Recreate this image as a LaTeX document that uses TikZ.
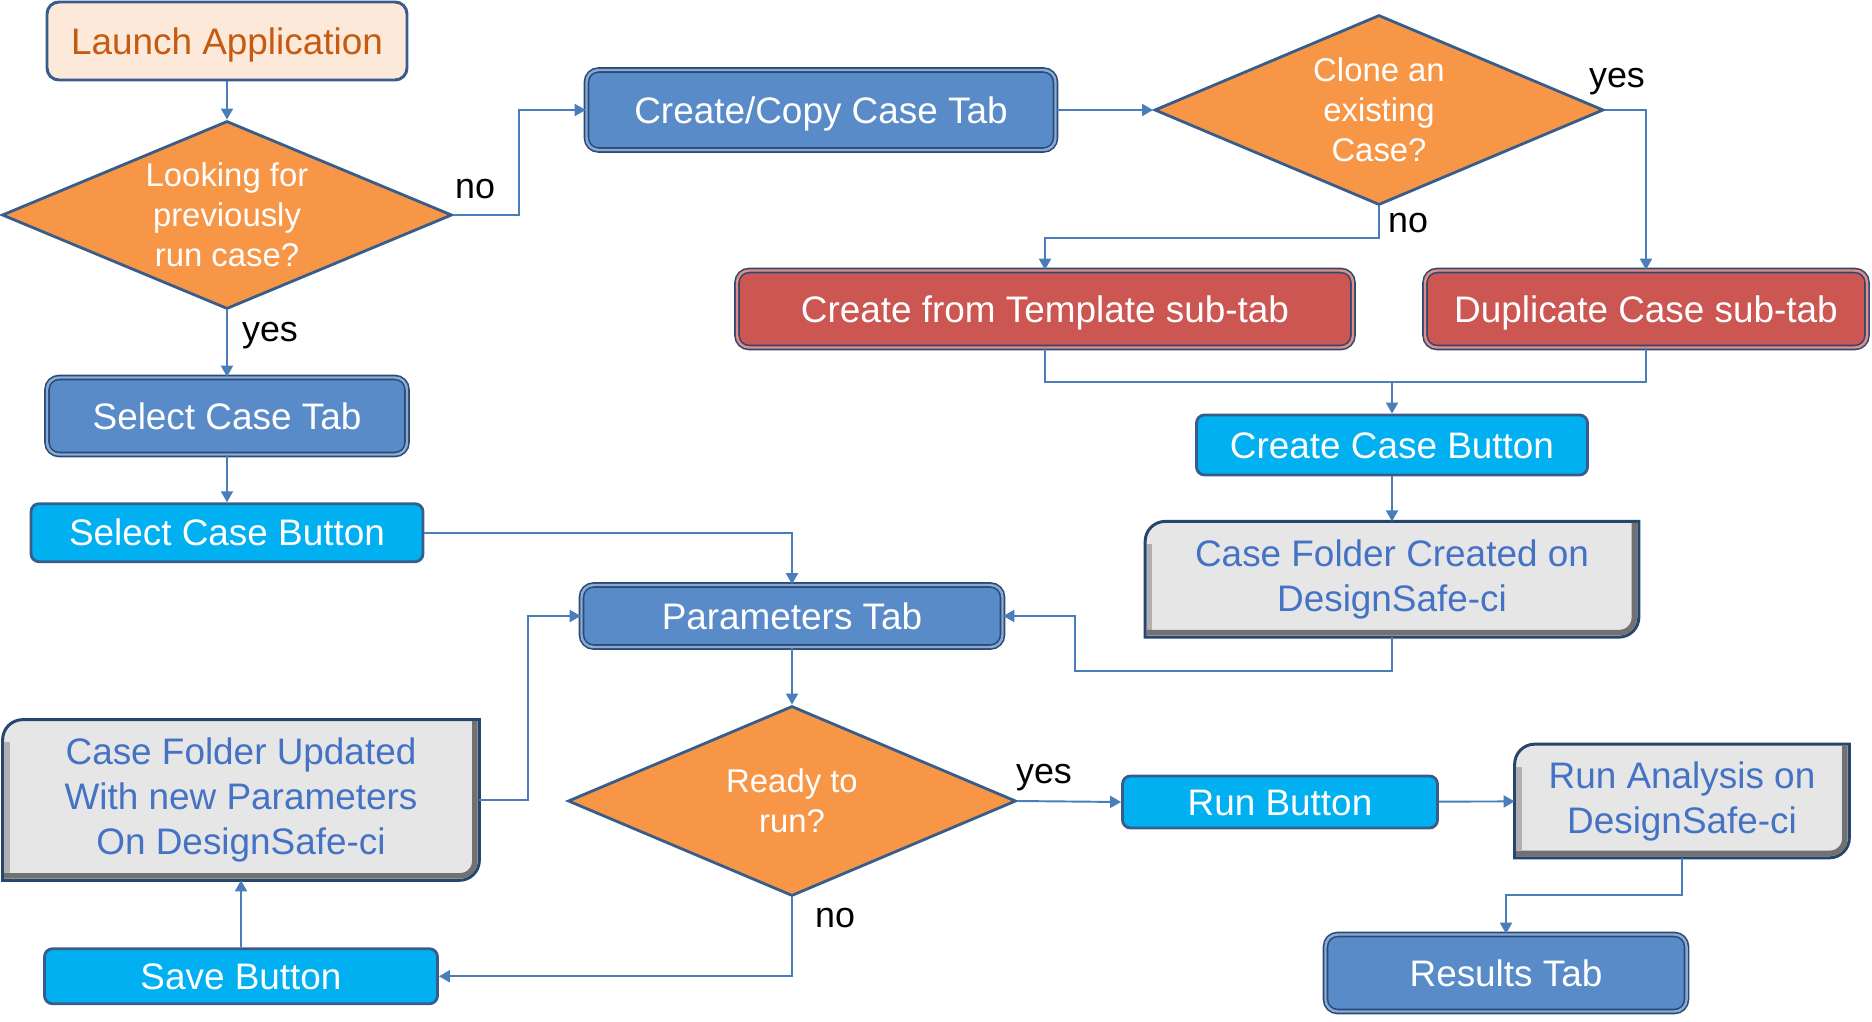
\documentclass[tikz,border=0pt]{standalone}
\usepackage{fontspec}
\setmainfont{Liberation Sans}
\usepackage{tikz}
\usetikzlibrary{shapes.geometric, arrows.meta, positioning, backgrounds}
\definecolor{edgeblue}{HTML}{385D8A}
\definecolor{tabedge}{HTML}{2C4A70}
\definecolor{tabblue}{HTML}{5A8BC9}
\definecolor{tabring}{HTML}{86AADA}
\definecolor{subred}{HTML}{CB5652}
\definecolor{subring}{HTML}{E48B87}
\definecolor{btncyan}{HTML}{00B0F0}
\definecolor{peach}{HTML}{FDE9D9}
\definecolor{launchtext}{HTML}{C55A11}
\definecolor{qorange}{HTML}{F79646}
\definecolor{foldgray}{HTML}{E6E6E6}
\definecolor{foldtext}{HTML}{4472C4}
\definecolor{foldedge}{HTML}{27466E}
\definecolor{bevlight}{HTML}{B0B0B0}
\definecolor{bevdark}{HTML}{717171}
\definecolor{linkblue}{HTML}{4A7EBB}
\newcommand{\boxfont}{\fontsize{21}{25.6}\selectfont}
\newcommand{\qfont}{\fontsize{18.7}{22.7}\selectfont}
\newcommand{\lblfont}{\fontsize{20.4}{24}\selectfont}

\begin{document}
\begin{tikzpicture}[
    box/.style={rectangle, rounded corners=0.24cm, align=center, text=white, font=\boxfont, text height=15.1pt, text depth=0pt},
    tab/.style={box, draw=tabedge, line width=0.9pt, double=tabring, double distance=1.4pt, fill=tabblue},
    subtab/.style={tab, double=subring, fill=subred},
    button/.style={box, rounded corners=0.16cm, draw=edgeblue, line width=1.6pt, fill=btncyan},
    launchbox/.style={box, draw=edgeblue, line width=1.7pt, fill=peach, text=launchtext},
    decision/.style={diamond, draw=edgeblue, line width=1.6pt, fill=qorange, inner sep=0pt, aspect=2.4, align=center, text=white, font=\qfont},
    folder/.style={rectangle, align=center, text=foldtext, font=\boxfont},
    lbl/.style={font=\lblfont, text=black},
    arrow/.style={-{Triangle[length=0.22cm, width=0.24cm]}, line width=1.1pt, draw=linkblue},
    link/.style={line width=1.1pt, draw=linkblue}
]
\useasboundingbox (0,0) rectangle (37.44,-20.44);

% left column
\node[launchbox, minimum width=7.20cm, minimum height=1.56cm] (launch) at (4.54,-0.82) {Launch Application};
\node[decision, minimum width=9.00cm, minimum height=3.76cm] (lookfor) at (4.54,-4.30) {Looking for\\previously\\run case?};
\node[tab, minimum width=7.20cm, minimum height=1.54cm] (selecttab) at (4.54,-8.32) {Select Case Tab};
\node[button, minimum width=7.84cm, minimum height=1.16cm, below=0.94cm of selecttab] (selectbtn) {Select Case Button};

% create / copy branch
\node[tab, minimum width=9.38cm, minimum height=1.60cm] (copytab) at (16.42,-2.20) {Create/Copy Case Tab};
\node[decision, minimum width=8.98cm, minimum height=3.80cm] (clone) at (27.58,-2.20) {Clone an\\existing\\Case?};
\node[subtab, minimum width=12.32cm, minimum height=1.54cm] (template) at (20.90,-6.18) {Create from Template sub-tab};
\node[subtab, minimum width=8.84cm, minimum height=1.54cm] (duplicate) at (32.92,-6.18) {Duplicate Case sub-tab};
\coordinate (merge) at (27.84,-7.64);
\node[button, minimum width=7.82cm, minimum height=1.20cm] (createbtn) at (27.84,-8.90) {Create Case Button};
\node[folder, minimum width=9.86cm, minimum height=2.30cm, below=0.90cm of createbtn] (created) {Case Folder Created on\\DesignSafe-ci};

% parameters and run
\node[tab, minimum width=8.42cm, minimum height=1.24cm] (paramtab) at (15.84,-12.32) {Parameters Tab};
\node[decision, minimum width=8.96cm, minimum height=3.80cm] (ready) at (15.84,-16.02) {Ready to\\run?};
\node[button, minimum width=6.30cm, minimum height=1.04cm] (runbtn) at (25.60,-16.04) {Run Button};
\node[folder, minimum width=6.68cm, minimum height=2.26cm] (analysis) at (33.64,-16.02) {Run Analysis on\\DesignSafe-ci};
\node[tab, minimum width=7.22cm, minimum height=1.54cm] (results) at (30.12,-19.46) {Results Tab};
\node[folder, minimum width=9.52cm, minimum height=3.20cm] (updated) at (4.82,-16.00) {Case Folder Updated\\With new Parameters\\On DesignSafe-ci};
\node[button, minimum width=7.86cm, minimum height=1.10cm, below=1.34cm of updated] (savebtn) {Save Button};

% labels
\node[lbl] (nolook) at (9.50,-3.78) {no};
\node[lbl] (yeslook) at (5.40,-6.72) {yes};
\node[lbl] (yesclone) at (32.34,-1.64) {yes};
\node[lbl] (noclone) at (28.16,-4.46) {no};
\node[lbl] (yesready) at (20.88,-15.56) {yes};
\node[lbl] (noready) at (16.70,-18.36) {no};

% bevelled folder boxes
\begin{pgfonlayer}{background}
\foreach \n in {created,updated,analysis}{
  \filldraw[fill=foldgray, draw=foldedge, line width=1.7pt]
    ([xshift=0.4cm]\n.north west) -- (\n.north east) -- ([yshift=0.4cm]\n.south east)
    arc[start angle=0, end angle=-90, radius=0.4cm] -- (\n.south west) -- ([yshift=-0.4cm]\n.north west)
    arc[start angle=180, end angle=90, radius=0.4cm] -- cycle;
  \draw[bevlight, line width=0.11cm] ([shift={(0.09,0.15)}]\n.south west) -- ([shift={(0.09,-0.45)}]\n.north west);
  \draw[bevdark, line width=0.11cm, rounded corners=0.3cm] ([shift={(0.03,0.09)}]\n.south west) -- ([shift={(-0.09,0.09)}]\n.south east) -- ([shift={(-0.09,-0.03)}]\n.north east);
}
\end{pgfonlayer}

% connectors
\draw[arrow] (launch) -- (lookfor);
\draw[arrow] (lookfor.east) -- ++(1.32,0) |- (copytab.west);
\draw[arrow] (lookfor) -- (selecttab);
\draw[arrow] (selecttab) -- (selectbtn);
\draw[arrow] (selectbtn.east) -| (paramtab.north);
\draw[arrow] (copytab.east) -- (clone.west);
\draw[arrow] (clone.east) -| (duplicate.north);
\draw[arrow] (clone.south) -- ++(0,-0.64) -| (template.north);
\draw[link] (template.south) |- (merge) -| (duplicate.south);
\draw[arrow] (merge) -- (createbtn.north);
\draw[arrow] (createbtn) -- (created);
\draw[arrow] (created.south) |- (21.50,-13.42) |- (paramtab.east);
\draw[arrow] (paramtab) -- (ready);
\draw[arrow] (ready.east) -- (runbtn.west);
\draw[arrow] (runbtn) -- (analysis);
\draw[arrow] (analysis.south) -- ++(0,-0.75) -| (results.north);
\draw[arrow] (ready.south) |- (savebtn.east);
\draw[arrow] (savebtn) -- (updated);
\draw[arrow] (updated.east) -- ++(0.98,0) |- (paramtab.west);

\end{tikzpicture}
\end{document}
